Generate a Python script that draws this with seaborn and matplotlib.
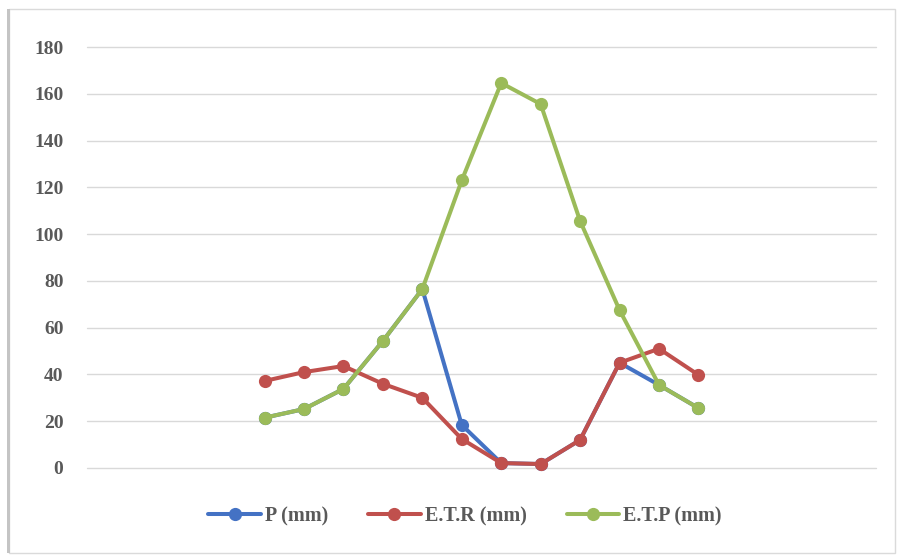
import matplotlib
matplotlib.use("Agg")
import matplotlib.pyplot as plt
import pandas as pd
import seaborn as sns
from matplotlib.patches import Rectangle

# values (12 points, no x labels)
STEP = list(range(12))
P_MM = [21.5, 25.2, 33.8, 54.3, 76.5, 18.4, 2.1, 1.7, 12.0, 45.0, 35.5, 25.6]
ETR_MM = [37.2, 41.0, 43.6, 36.0, 30.0, 12.4, 2.1, 1.7, 12.0, 45.0, 51.0, 39.8]
ETP_MM = [21.5, 25.2, 33.8, 54.3, 76.5, 123.0, 164.6, 155.6, 105.6, 67.5, 35.5, 25.6]

SERIES = ["P (mm)", "E.T.R (mm)", "E.T.P (mm)"]
COLORS = ["#4472C4", "#C0504D", "#9BBB59"]
TEXT = "#595959"

df = pd.DataFrame({
    "step": STEP * 3,
    "value": P_MM + ETR_MM + ETP_MM,
    "serie": [SERIES[0]] * 12 + [SERIES[1]] * 12 + [SERIES[2]] * 12,
})

sns.set_theme(style="white")
plt.rcParams["font.family"] = ["Liberation Serif", "DejaVu Serif"]

fig = plt.figure(figsize=(8.97, 5.56), dpi=100)
ax = fig.add_axes([87 / 897, 1 - 468 / 556, (876 - 87) / 897, (468 - 47) / 556])

sns.lineplot(
    data=df, x="step", y="value", hue="serie",
    palette=dict(zip(SERIES, COLORS)), hue_order=SERIES,
    marker="o", markersize=9.5, markeredgewidth=0,
    linewidth=2.9, ax=ax, legend=True,
)
for line in ax.lines:
    line.set_clip_on(False)

ax.set_xlim(-4.5, 15.5)
ax.set_ylim(0, 180)
ax.set_yticks(range(0, 181, 20))
ax.set_xticks([])
ax.grid(axis="y", color="#D9D9D9", linewidth=1.0)
for g in ax.get_ygridlines():
    g.set_clip_on(False)
ax.set_axisbelow(True)
for s in ax.spines.values():
    s.set_visible(False)
ax.tick_params(axis="y", length=0, pad=17, labelsize=14, labelcolor=TEXT)
for lbl in ax.get_yticklabels():
    lbl.set_fontweight("bold")
ax.set_xlabel("")
ax.set_ylabel("")

handles, labels = ax.get_legend_handles_labels()
ax.legend(
    handles, labels, loc="center", bbox_to_anchor=(465 / 897, 1 - 516 / 556),
    bbox_transform=fig.transFigure, ncol=3, frameon=False,
    prop={"weight": "bold", "size": 14.5}, labelcolor=TEXT,
    handlelength=2.6, handletextpad=0.2, columnspacing=2.0,
)

# chart frame with a soft shadow on the left
fig.add_artist(Rectangle((9 / 897, 3 / 556), 886 / 897, 544 / 556,
                         transform=fig.transFigure, fill=False,
                         edgecolor="#DADADA", linewidth=1.0))
fig.add_artist(Rectangle((7 / 897, 3 / 556), 2.5 / 897, 544 / 556,
                         transform=fig.transFigure, color="#C4C4C4", linewidth=0))

fig.savefig("out.png", dpi=100)
